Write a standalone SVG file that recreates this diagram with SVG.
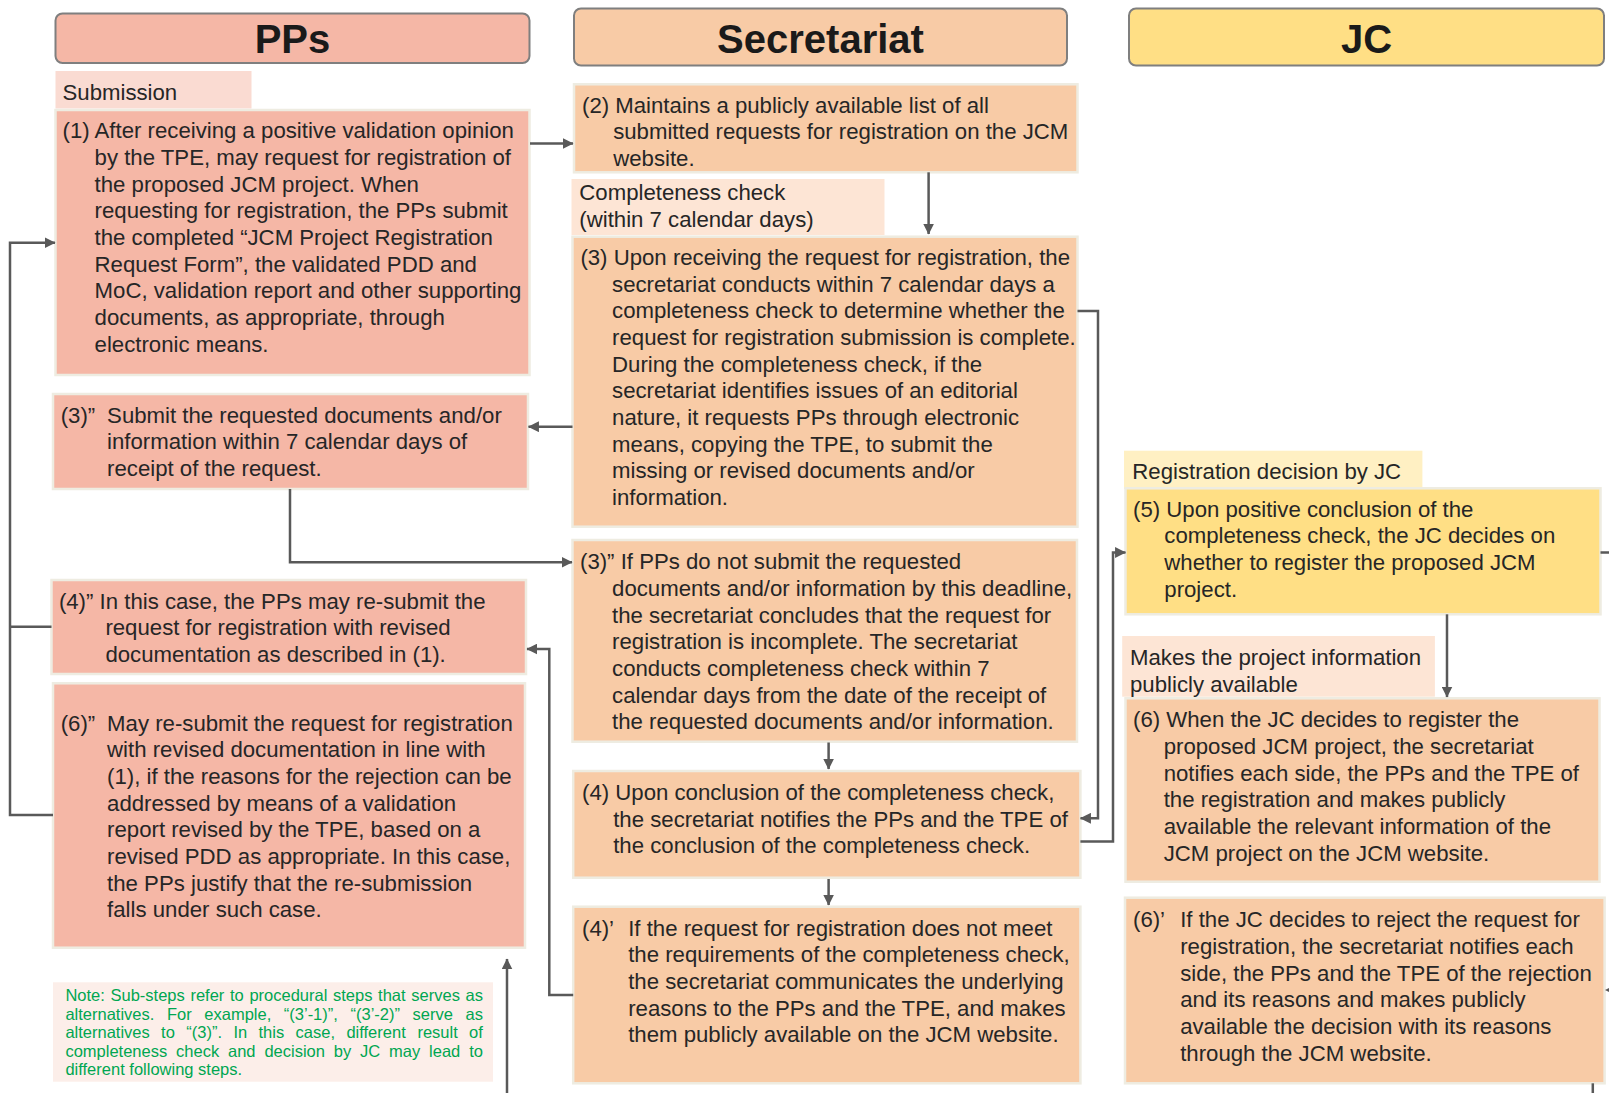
<svg xmlns="http://www.w3.org/2000/svg" width="1609" height="1093" viewBox="0 0 1609 1093">
<defs>
<marker id="ah" viewBox="0 0 10 10" refX="9.5" refY="5" markerUnits="userSpaceOnUse" markerWidth="11" markerHeight="11" orient="auto">
<path d="M0,0 L10,5 L0,10 z" fill="#595959"/>
</marker>
<style>
.hdr{stroke:#7F7F7F;stroke-width:2}
.ht{font-family:"Liberation Sans",Arial,sans-serif;font-weight:bold;font-size:40px;fill:#1a1a1a;text-anchor:middle}
.box{stroke:#EEECE1;stroke-width:2.5}
.pp{fill:#F5B7A6}
.sc{fill:#F8CBA6}
.jc{fill:#FFDF85}
.lpp{fill:#FADBD2}
.lsc{fill:#FDE5D5}
.ljc{fill:#FFF0C3}
.t{font-family:"Liberation Sans",Arial,sans-serif;font-size:22.2px;fill:#262626}
.note{font-family:"Liberation Sans",Arial,sans-serif;font-size:16.5px;fill:#00A651}
.c{fill:none;stroke:#595959;stroke-width:2.5}
</style>
</defs>
<rect width="1609" height="1093" fill="#FFFFFF"/>

<g id="header-pps">
<rect class="hdr pp" x="55.5" y="13.5" width="474" height="49.5" rx="7"/>
<text class="ht" x="292.5" y="52.5">PPs</text>
</g>
<g id="header-secretariat">
<rect class="hdr sc" x="574" y="8.5" width="493" height="57" rx="7"/>
<text class="ht" x="820.5" y="52.5">Secretariat</text>
</g>
<g id="header-jc">
<rect class="hdr jc" x="1129" y="8.5" width="475" height="57" rx="7"/>
<text class="ht" x="1366.5" y="52.5">JC</text>
</g>

<g id="label-submission">
<rect class="lpp" x="55.5" y="71" width="196" height="37.5"/>
<text class="t" x="62.5" y="100">Submission</text>
</g>
<g id="step-1">
<rect class="box pp" x="55.5" y="110" width="474" height="265"/>
<text class="t">
<tspan x="62.5" y="138.3">(1) After receiving a positive validation opinion</tspan>
<tspan x="94.6" y="165">by the TPE, may request for registration of</tspan>
<tspan x="94.6" y="191.7">the proposed JCM project. When</tspan>
<tspan x="94.6" y="218.3">requesting for registration, the PPs submit</tspan>
<tspan x="94.6" y="245">the completed “JCM Project Registration</tspan>
<tspan x="94.6" y="271.7">Request Form”, the validated PDD and</tspan>
<tspan x="94.6" y="298.3">MoC, validation report and other supporting</tspan>
<tspan x="94.6" y="325">documents, as appropriate, through</tspan>
<tspan x="94.6" y="351.7">electronic means.</tspan>
</text>
</g>

<g id="step-2">
<rect class="box sc" x="574" y="84.3" width="503.5" height="88"/>
<text class="t">
<tspan x="582" y="112.7">(2) Maintains a publicly available list of all</tspan>
<tspan x="613.2" y="139.3">submitted requests for registration on the JCM</tspan>
<tspan x="613.2" y="166">website.</tspan>
</text>
</g>

<g id="label-completeness">
<rect class="lsc" x="571.5" y="179" width="313" height="56"/>
<text class="t">
<tspan x="579.3" y="200">Completeness check</tspan>
<tspan x="579.3" y="227">(within 7 calendar days)</tspan>
</text>
</g>

<g id="step-3">
<rect class="box sc" x="572.5" y="236.7" width="505" height="290"/>
<text class="t">
<tspan x="580.4" y="265">(3) Upon receiving the request for registration, the</tspan>
<tspan x="612.1" y="291.7">secretariat conducts within 7 calendar days a</tspan>
<tspan x="612.1" y="318.3">completeness check to determine whether the</tspan>
<tspan x="612.1" y="345">request for registration submission is complete.</tspan>
<tspan x="612.1" y="371.7">During the completeness check, if the</tspan>
<tspan x="612.1" y="398.3">secretariat identifies issues of an editorial</tspan>
<tspan x="612.1" y="425">nature, it requests PPs through electronic</tspan>
<tspan x="612.1" y="451.7">means, copying the TPE, to submit the</tspan>
<tspan x="612.1" y="478.3">missing or revised documents and/or</tspan>
<tspan x="612.1" y="505">information.</tspan>
</text>
</g>

<g id="step-3-pp">
<rect class="box pp" x="53" y="394" width="475" height="95"/>
<text class="t" x="60.7" y="422.7">(3)”</text>
<text class="t">
<tspan x="107.1" y="422.7">Submit the requested documents and/or</tspan>
<tspan x="107.1" y="449.3">information within 7 calendar days of</tspan>
<tspan x="107.1" y="476">receipt of the request.</tspan>
</text>
</g>

<g id="step-3-sec">
<rect class="box sc" x="572.5" y="540" width="504.5" height="201.7"/>
<text class="t">
<tspan x="580" y="569.3">(3)” If PPs do not submit the requested</tspan>
<tspan x="612.1" y="596">documents and/or information by this deadline,</tspan>
<tspan x="612.1" y="622.7">the secretariat concludes that the request for</tspan>
<tspan x="612.1" y="649.3">registration is incomplete. The secretariat</tspan>
<tspan x="612.1" y="676">conducts completeness check within 7</tspan>
<tspan x="612.1" y="702.7">calendar days from the date of the receipt of</tspan>
<tspan x="612.1" y="729.3">the requested documents and/or information.</tspan>
</text>
</g>

<g id="step-4-pp">
<rect class="box pp" x="51.5" y="580" width="474.5" height="94"/>
<text class="t">
<tspan x="58.9" y="608.7">(4)” In this case, the PPs may re-submit the</tspan>
<tspan x="105.4" y="635.3">request for registration with revised</tspan>
<tspan x="105.4" y="662">documentation as described in (1).</tspan>
</text>
</g>

<g id="step-6-pp">
<rect class="box pp" x="53" y="683.3" width="472" height="264.4"/>
<text class="t" x="60.7" y="730.7">(6)”</text>
<text class="t">
<tspan x="107.1" y="730.7">May re-submit the request for registration</tspan>
<tspan x="107.1" y="757.4">with revised documentation in line with</tspan>
<tspan x="107.1" y="784">(1), if the reasons for the rejection can be</tspan>
<tspan x="107.1" y="810.7">addressed by means of a validation</tspan>
<tspan x="107.1" y="837.4">report revised by the TPE, based on a</tspan>
<tspan x="107.1" y="864">revised PDD as appropriate. In this case,</tspan>
<tspan x="107.1" y="890.7">the PPs justify that the re-submission</tspan>
<tspan x="107.1" y="917.4">falls under such case.</tspan>
</text>
</g>

<g id="note">
<rect fill="#FCEEE9" x="53" y="982.3" width="440" height="99.4"/>
<text class="note">
<tspan x="65.4" y="1001.3">Note:</tspan><tspan x="110.5" y="1001.3">Sub-steps</tspan><tspan x="190.4" y="1001.3">refer</tspan><tspan x="230" y="1001.3">to</tspan><tspan x="249.4" y="1001.3">procedural</tspan><tspan x="333" y="1001.3">steps</tspan><tspan x="378.1" y="1001.3">that</tspan><tspan x="411.3" y="1001.3">serves</tspan><tspan x="465.5" y="1001.3">as</tspan>
<tspan x="65.4" y="1019.7">alternatives.</tspan><tspan x="166.9" y="1019.7">For</tspan><tspan x="204.3" y="1019.7">example,</tspan><tspan x="283.8" y="1019.7">“(3’-1)”,</tspan><tspan x="350.5" y="1019.7">“(3’-2)”</tspan><tspan x="412.5" y="1019.7">serve</tspan><tspan x="465.5" y="1019.7">as</tspan>
<tspan x="65.4" y="1038.1">alternatives</tspan><tspan x="161.1" y="1038.1">to</tspan><tspan x="186.3" y="1038.1">“(3)”.</tspan><tspan x="233.4" y="1038.1">In</tspan><tspan x="258.5" y="1038.1">this</tspan><tspan x="295.6" y="1038.1">case,</tspan><tspan x="346.4" y="1038.1">different</tspan><tspan x="417.4" y="1038.1">result</tspan><tspan x="469.1" y="1038.1">of</tspan>
<tspan x="65.4" y="1056.5">completeness</tspan><tspan x="176.1" y="1056.5">check</tspan><tspan x="228" y="1056.5">and</tspan><tspan x="264.4" y="1056.5">decision</tspan><tspan x="333.8" y="1056.5">by</tspan><tspan x="360.1" y="1056.5">JC</tspan><tspan x="389.1" y="1056.5">may</tspan><tspan x="429.1" y="1056.5">lead</tspan><tspan x="469.2" y="1056.5">to</tspan>
<tspan x="65.4" y="1074.9">different following steps.</tspan>
</text>
</g>

<g id="step-4">
<rect class="box sc" x="573.2" y="771" width="507.2" height="106.7"/>
<text class="t">
<tspan x="582" y="800">(4) Upon conclusion of the completeness check,</tspan>
<tspan x="613.2" y="826.7">the secretariat notifies the PPs and the TPE of</tspan>
<tspan x="613.2" y="853.3">the conclusion of the completeness check.</tspan>
</text>
</g>

<g id="step-4-alt">
<rect class="box sc" x="573.2" y="906.7" width="507.2" height="176.6"/>
<text class="t" x="582" y="935.7">(4)’</text>
<text class="t">
<tspan x="628.2" y="935.7">If the request for registration does not meet</tspan>
<tspan x="628.2" y="962.3">the requirements of the completeness check,</tspan>
<tspan x="628.2" y="989">the secretariat communicates the underlying</tspan>
<tspan x="628.2" y="1015.7">reasons to the PPs and the TPE, and makes</tspan>
<tspan x="628.2" y="1042.3">them publicly available on the JCM website.</tspan>
</text>
</g>

<g id="label-registration-decision">
<rect class="ljc" x="1124" y="450.7" width="298.4" height="38.3"/>
<text class="t" x="1132.3" y="479.3">Registration decision by JC</text>
</g>

<g id="step-5">
<rect class="box jc" x="1125.5" y="488.3" width="475" height="126"/>
<text class="t">
<tspan x="1133" y="516.7">(5) Upon positive conclusion of the</tspan>
<tspan x="1164.3" y="543.3">completeness check, the JC decides on</tspan>
<tspan x="1164.3" y="570">whether to register the proposed JCM</tspan>
<tspan x="1164.3" y="596.7">project.</tspan>
</text>
</g>

<g id="label-public">
<rect class="lsc" x="1122.2" y="636" width="312.7" height="60.7"/>
<text class="t">
<tspan x="1130" y="665">Makes the project information</tspan>
<tspan x="1130" y="691.7">publicly available</tspan>
</text>
</g>

<g id="step-6">
<rect class="box sc" x="1125.5" y="698.3" width="474" height="183.4"/>
<text class="t">
<tspan x="1133" y="727.3">(6) When the JC decides to register the</tspan>
<tspan x="1163.7" y="754">proposed JCM project, the secretariat</tspan>
<tspan x="1163.7" y="780.7">notifies each side, the PPs and the TPE of</tspan>
<tspan x="1163.7" y="807.3">the registration and makes publicly</tspan>
<tspan x="1163.7" y="834">available the relevant information of the</tspan>
<tspan x="1163.7" y="860.7">JCM project on the JCM website.</tspan>
</text>
</g>

<g id="step-6-alt">
<rect class="box sc" x="1125" y="897.7" width="479.6" height="185.6"/>
<text class="t" x="1133" y="927.3">(6)’</text>
<text class="t">
<tspan x="1180.2" y="927.3">If the JC decides to reject the request for</tspan>
<tspan x="1180.2" y="954">registration, the secretariat notifies each</tspan>
<tspan x="1180.2" y="980.7">side, the PPs and the TPE of the rejection</tspan>
<tspan x="1180.2" y="1007.3">and its reasons and makes publicly</tspan>
<tspan x="1180.2" y="1034">available the decision with its reasons</tspan>
<tspan x="1180.2" y="1060.7">through the JCM website.</tspan>
</text>
</g>

<g id="connectors">
<path class="c" d="M530,143.5 H573" marker-end="url(#ah)"/>
<path class="c" d="M928.6,172.3 V234" marker-end="url(#ah)"/>
<path class="c" d="M572.5,426.7 H528.5" marker-end="url(#ah)"/>
<path class="c" d="M290,489 V562.3 H572" marker-end="url(#ah)"/>
<path class="c" d="M1077.5,311 H1098 V818.3 H1080.5" marker-end="url(#ah)"/>
<path class="c" d="M1080.4,841.5 H1113 V552.5 H1125.5" marker-end="url(#ah)"/>
<path class="c" d="M1447,614.3 V697" marker-end="url(#ah)"/>
<path class="c" d="M1600.5,552.5 H1612"/>
<path d="M1605,990 L1615,985 L1615,995 z" fill="#595959"/>
<path class="c" d="M1592.8,1083.3 V1095"/>
<path class="c" d="M828.6,742.5 V769" marker-end="url(#ah)"/>
<path class="c" d="M828.6,879 V905" marker-end="url(#ah)"/>
<path class="c" d="M573.2,995 H549.3 V649 H527" marker-end="url(#ah)"/>
<path class="c" d="M53,815 H10 V242.7 H55" marker-end="url(#ah)"/>
<path class="c" d="M51.5,626.7 H10"/>
<path class="c" d="M507,1095 V959" marker-end="url(#ah)"/>
</g>
</svg>
